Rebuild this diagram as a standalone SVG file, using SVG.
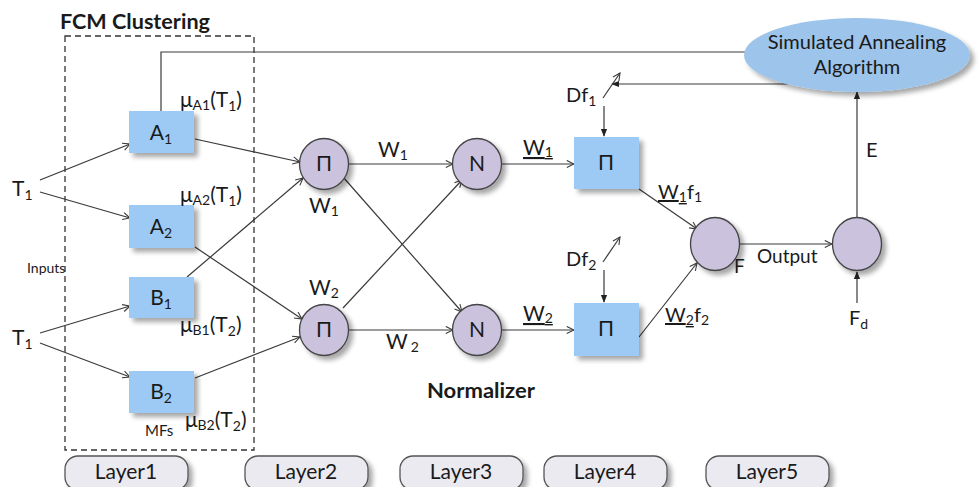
<svg xmlns="http://www.w3.org/2000/svg" width="979" height="487" viewBox="0 0 979 487">
<defs>
<style>
text{font-family:Lato,"Open Sans","Liberation Sans",sans-serif;fill:#1a1a1a}
.box{fill:#9ccaf5}
.circ{fill:#cbc2de;stroke:#444;stroke-width:1.3}
.ln{stroke:#3a3a3a;stroke-width:1.2;fill:none}
.oa{marker-end:url(#open)}
.fa{marker-end:url(#fill)}
.lab{font-size:21px}
.sub{font-size:14px}
.lay{fill:#ebeaf0;stroke:#555;stroke-width:1.3}
.laytxt{font-size:21px;text-anchor:middle}
.ctr{text-anchor:middle}
</style>
<marker id="open" viewBox="0 0 10 10" refX="9" refY="5" markerWidth="9" markerHeight="9" markerUnits="userSpaceOnUse" orient="auto">
<path d="M1,1 L9,5 L1,9" fill="none" stroke="#3a3a3a" stroke-width="1.2"/>
</marker>
<marker id="fill" viewBox="0 0 10 10" refX="9" refY="5" markerWidth="8" markerHeight="8" markerUnits="userSpaceOnUse" orient="auto">
<path d="M0,1 L10,5 L0,9 Z" fill="#222"/>
</marker>
<filter id="sh" x="-20%" y="-20%" width="150%" height="150%">
<feGaussianBlur in="SourceAlpha" stdDeviation="2.5"/>
<feOffset dx="4" dy="4" result="b"/>
<feComponentTransfer><feFuncA type="linear" slope="0.35"/></feComponentTransfer>
<feMerge><feMergeNode/><feMergeNode in="SourceGraphic"/></feMerge>
</filter>
</defs>
<rect width="979" height="487" fill="#ffffff"/>

<g id="fcm-cluster">
<rect x="65" y="36" width="189" height="414" fill="none" stroke="#333" stroke-width="1.3" stroke-dasharray="6,4"/>
<text x="60" y="29" font-size="21" font-weight="bold" textLength="150" lengthAdjust="spacingAndGlyphs">FCM Clustering</text>
</g>

<g id="connectors">
<path class="ln" d="M161,111 V52 H745"/>
<path class="ln oa" d="M40,180 L130,144"/>
<path class="ln oa" d="M40,192 L130,218"/>
<path class="ln oa" d="M40,333 L130,306"/>
<path class="ln oa" d="M40,343 L130,377"/>
<path class="ln oa" d="M195,139 L300,162"/>
<path class="ln oa" d="M195,247 L302,319"/>
<path class="ln oa" d="M187,277 L303,178"/>
<path class="ln oa" d="M195,378 L300,337"/>
<path class="ln oa" d="M349,164 L453,164"/>
<path class="ln oa" d="M343,177 L462,312"/>
<path class="ln oa" d="M343,308 L462,180"/>
<path class="ln oa" d="M349,330 L453,330"/>
<path class="ln oa" d="M502,164 L574,164"/>
<path class="ln oa" d="M502,330 L574,330"/>
<path class="ln oa" d="M639,189 L697,229"/>
<path class="ln oa" d="M639,337 L697,263"/>
<path class="ln oa" d="M740,244 L832,244"/>
<path class="ln fa" d="M857,217 L857,92"/>
<path class="ln fa" d="M857,303 L857,272"/>
<path class="ln fa" d="M788,84 L612,84"/>
<path class="ln oa" d="M603,98 L620,73"/>
<path class="ln fa" d="M604,106 L604,136"/>
<path class="ln oa" d="M603,262 L620,237"/>
<path class="ln fa" d="M604,270 L604,302"/>
</g>

<g id="inputs">
<text x="12" y="196" class="lab">T<tspan class="sub" dy="4">1</tspan></text>
<text x="12" y="345" class="lab">T<tspan class="sub" dy="4">1</tspan></text>
<text x="27" y="273" font-size="14">Inputs</text>
</g>

<g id="A1">
<rect class="box" x="129" y="111" width="65" height="42" filter="url(#sh)"/>
<text x="161" y="140" class="lab ctr">A<tspan class="sub" dy="4">1</tspan></text>
</g>
<g id="A2">
<rect class="box" x="129" y="205" width="65" height="43" filter="url(#sh)"/>
<text x="161" y="234" class="lab ctr">A<tspan class="sub" dy="4">2</tspan></text>
</g>
<g id="B1">
<rect class="box" x="129" y="277" width="65" height="41" filter="url(#sh)"/>
<text x="161" y="305" class="lab ctr">B<tspan class="sub" dy="4">1</tspan></text>
</g>
<g id="B2">
<rect class="box" x="129" y="371" width="65" height="42" filter="url(#sh)"/>
<text x="161" y="399" class="lab ctr">B<tspan class="sub" dy="4">2</tspan></text>
</g>

<g id="mf-labels">
<text x="180" y="107" class="lab">μ<tspan class="sub" dy="3">A1</tspan><tspan dy="-3">(T</tspan><tspan class="sub" dy="4">1</tspan><tspan dy="-4">)</tspan></text>
<text x="180" y="202" class="lab">μ<tspan class="sub" dy="3">A2</tspan><tspan dy="-3">(T</tspan><tspan class="sub" dy="4">1</tspan><tspan dy="-4">)</tspan></text>
<text x="180" y="332" class="lab">μ<tspan class="sub" dy="3">B1</tspan><tspan dy="-3">(T</tspan><tspan class="sub" dy="4">2</tspan><tspan dy="-4">)</tspan></text>
<text x="185" y="427" class="lab">μ<tspan class="sub" dy="3">B2</tspan><tspan dy="-3">(T</tspan><tspan class="sub" dy="4">2</tspan><tspan dy="-4">)</tspan></text>
<text x="145" y="436" font-size="15">MFs</text>
</g>

<g id="P1">
<ellipse class="circ" cx="324" cy="164" rx="24.5" ry="25.5" filter="url(#sh)"/>
<text x="324" y="171" class="lab ctr">Π</text>
</g>
<g id="P2">
<ellipse class="circ" cx="324" cy="330" rx="24.5" ry="25.5" filter="url(#sh)"/>
<text x="324" y="337" class="lab ctr">Π</text>
</g>
<g id="w-labels">
<text x="378" y="157" class="lab">W<tspan class="sub" dy="3">1</tspan></text>
<text x="309" y="213" class="lab">W<tspan class="sub" dy="3">1</tspan></text>
<text x="309" y="295" class="lab">W<tspan class="sub" dy="3">2</tspan></text>
<text x="386" y="349" class="lab">W<tspan class="sub" dy="3" dx="3">2</tspan></text>
</g>

<g id="N1">
<ellipse class="circ" cx="477" cy="164" rx="24.5" ry="25.5" filter="url(#sh)"/>
<text x="477" y="171" class="lab ctr">N</text>
</g>
<g id="N2">
<ellipse class="circ" cx="477" cy="330" rx="24.5" ry="25.5" filter="url(#sh)"/>
<text x="477" y="337" class="lab ctr">N</text>
</g>
<g id="normalized-labels">
<text x="523" y="155" class="lab" text-decoration="underline">W<tspan class="sub" dy="2">1</tspan></text>
<text x="523" y="321" class="lab" text-decoration="underline">W<tspan class="sub" dy="2">2</tspan></text>
<text x="427" y="398" font-size="20" font-weight="bold" textLength="108" lengthAdjust="spacingAndGlyphs">Normalizer</text>
</g>

<g id="R1">
<rect class="box" x="574" y="137" width="65" height="52" filter="url(#sh)"/>
<text x="606" y="170" class="lab ctr">Π</text>
</g>
<g id="R2">
<rect class="box" x="574" y="303" width="65" height="53" filter="url(#sh)"/>
<text x="606" y="336" class="lab ctr">Π</text>
</g>
<g id="df-labels">
<text x="566" y="102" font-size="20">Df<tspan class="sub" dy="4">1</tspan></text>
<text x="566" y="266" font-size="20">Df<tspan class="sub" dy="4">2</tspan></text>
<text x="658" y="199" font-size="20" text-decoration="underline">W<tspan class="sub" dy="3">1</tspan></text>
<text x="687" y="199" font-size="20">f<tspan class="sub" dy="3">1</tspan></text>
<text x="665" y="322" font-size="20" text-decoration="underline">W<tspan class="sub" dy="3">2</tspan></text>
<text x="694" y="322" font-size="20">f<tspan class="sub" dy="3">2</tspan></text>
</g>

<g id="F">
<ellipse class="circ" cx="715" cy="244" rx="24.5" ry="26.5" filter="url(#sh)"/>
<text x="734" y="273" font-size="19">F</text>
</g>
<g id="Err">
<ellipse class="circ" cx="857" cy="244" rx="24.5" ry="26.5" filter="url(#sh)"/>
</g>
<g id="out-labels">
<text x="757" y="263" font-size="19">Output</text>
<text x="866" y="157" font-size="20">E</text>
<text x="849" y="325" font-size="20">F<tspan class="sub" dy="4">d</tspan></text>
</g>

<g id="SA">
<ellipse cx="857" cy="55" rx="113" ry="37" fill="#9dc4ea" filter="url(#sh)"/>
<text x="857" y="49" font-size="20" class="ctr">Simulated Annealing</text>
<text x="857" y="74" font-size="20" class="ctr">Algorithm</text>
</g>

<g id="Layer1"><rect class="lay" x="65" y="456" width="123" height="34" rx="13" filter="url(#sh)"/><text x="126" y="479" class="laytxt">Layer1</text></g>
<g id="Layer2"><rect class="lay" x="245" y="456" width="123" height="34" rx="13" filter="url(#sh)"/><text x="306" y="479" class="laytxt">Layer2</text></g>
<g id="Layer3"><rect class="lay" x="400" y="456" width="123" height="34" rx="13" filter="url(#sh)"/><text x="461" y="479" class="laytxt">Layer3</text></g>
<g id="Layer4"><rect class="lay" x="544" y="456" width="123" height="34" rx="13" filter="url(#sh)"/><text x="605" y="479" class="laytxt">Layer4</text></g>
<g id="Layer5"><rect class="lay" x="706" y="456" width="123" height="34" rx="13" filter="url(#sh)"/><text x="767" y="479" class="laytxt">Layer5</text></g>
</svg>
